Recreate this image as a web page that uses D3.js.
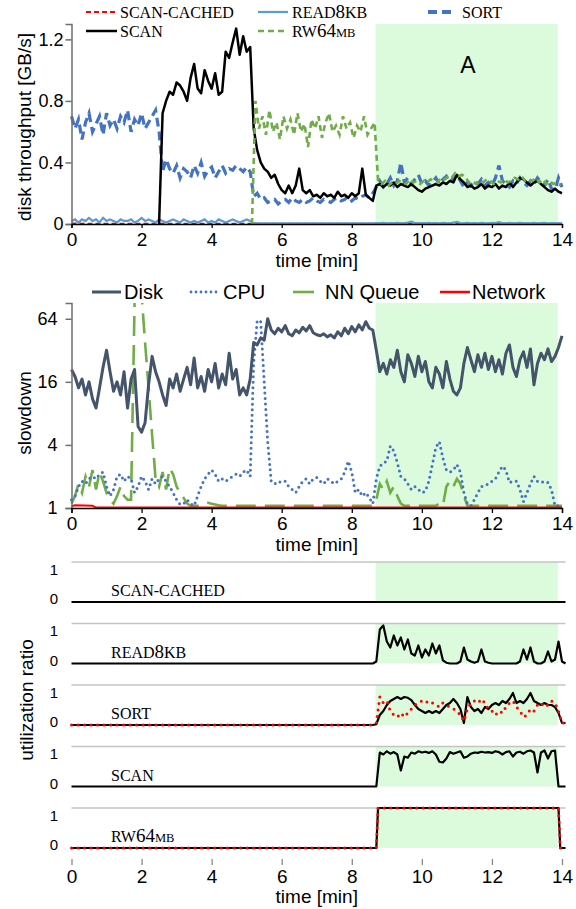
<!DOCTYPE html>
<html>
<head>
<meta charset="utf-8">
<script src="https://cdn.jsdelivr.net/npm/d3@7"></script>
<style>
  body { margin: 0; background: #fff; }
  text { font-family: "Liberation Sans", Arial, sans-serif; fill: #000; }
  text.serif { font-family: "Liberation Serif", "Times New Roman", serif; }
</style>
</head>
<body>
<div id="chart-area"></div>
<script>
// ---------- data ----------
const step = 0.1;                       // minutes between samples
const timeTicks = [0, 2, 4, 6, 8, 10, 12, 14];
const shadeStart = 8.68, shadeEnd = 13.88;

// disk throughput [GB/s]
const throughputTicks = [0, 0.4, 0.8, 1.2];
const sortStart = 0;
const sortValues = [
  0.70,0.62,0.68,0.55,0.66,0.72,0.60,0.65,0.70,0.58,
  0.72,0.64,0.68,0.62,0.70,0.66,0.74,0.60,0.68,0.64,
  0.72,0.62,0.66,0.70,0.74,0.60,0.34,0.42,0.36,0.33,
  0.38,0.30,0.36,0.34,0.30,0.38,0.33,0.40,0.31,0.35,
  0.37,0.30,0.34,0.38,0.33,0.36,0.35,0.38,0.36,0.34,
  0.37,0.34,0.18,0.20,0.16,0.17,0.14,0.15,0.16,0.13,
  0.15,0.16,0.14,0.17,0.15,0.14,0.16,0.14,0.15,0.17,
  0.15,0.14,0.16,0.15,0.14,0.16,0.17,0.15,0.16,0.18,
  0.15,0.17,0.16,0.18,0.19,0.17,0.20,0.24,0.28,0.24,
  0.26,0.30,0.25,0.28,0.40,0.27,0.30,0.26,0.29,0.32,
  0.26,0.28,0.25,0.27,0.30,0.26,0.29,0.31,0.27,0.30,
  0.32,0.28,0.24,0.27,0.25,0.28,0.26,0.29,0.25,0.27,
  0.25,0.30,0.38,0.28,0.26,0.24,0.28,0.26,0.30,0.27,
  0.25,0.28,0.26,0.30,0.27,0.25,0.29,0.23,0.22,0.30,
  0.24
];
const read8kbStart = 0;
const read8kbValues = [
  0.02,0.03,0.01,0.03,0.02,0.04,0.02,0.03,0.01,0.04,
  0.02,0.03,0.02,0.01,0.03,0.02,0.02,0.03,0.01,0.02,
  0.04,0.02,0.03,0.02,0.01,0.03,0.02,0.01,0.02,0.03,
  0.02,0.01,0.03,0.02,0.01,0.02,0.01,0.02,0.03,0.01,
  0.02,0.01,0.03,0.02,0.01,0.02,0.03,0.02,0.01,0.02,
  0.03,0.02,0.006,0.005,0.005,0.005,0.005,0.005,0.005,0.005,
  0.005,0.005,0.005,0.005,0.005,0.005,0.005,0.005,0.005,0.005,
  0.005,0.005,0.005,0.005,0.005,0.005,0.005,0.005,0.005,0.005,
  0.005,0.005,0.005,0.005,0.005,0.005,0.005,0.006,0.005,0.008,
  0.005,0.006,0.005,0.008,0.005,0.006,0.010,0.016,0.006,0.005,
  0.006,0.005,0.008,0.005,0.006,0.005,0.008,0.006,0.005,0.010,
  0.014,0.006,0.005,0.008,0.005,0.006,0.005,0.008,0.006,0.005,
  0.008,0.006,0.012,0.006,0.005,0.008,0.005,0.006,0.008,0.005,
  0.006,0.005,0.008,0.005,0.006,0.008,0.005,0.006,0.005,0.006,
  0.005
];
const scanCachedStart = 0;
const scanCachedValues = [
  0.003,0.004,0.003,0.002,0.003,0.002,0.002,0.002,0.002,0.002,
  0.002,0.002,0.002,0.002,0.002,0.002,0.002,0.002,0.002,0.002,
  0.002,0.002,0.002,0.002,0.002,0.002,0.002,0.002,0.002,0.002,
  0.002,0.002,0.002,0.002,0.002,0.002,0.002,0.002,0.002,0.002,
  0.002,0.002,0.002,0.002,0.002,0.002,0.002,0.002,0.002,0.002,
  0.002,0.002,0.002,0.002,0.002,0.002,0.002,0.002,0.002,0.002,
  0.002,0.002,0.002,0.002,0.002,0.002,0.002,0.002,0.002,0.002,
  0.002,0.002,0.002,0.002,0.002,0.002,0.002,0.002,0.002,0.002,
  0.002,0.002,0.002,0.002,0.002,0.002,0.002,0.002,0.003,0.002,
  0.002,0.003,0.002,0.002,0.003,0.002,0.004,0.002,0.002,0.003,
  0.002,0.003,0.002,0.002,0.003,0.002,0.002,0.003,0.002,0.003,
  0.008,0.003,0.002,0.003,0.002,0.002,0.003,0.002,0.002,0.003,
  0.002,0.003,0.002,0.002,0.003,0.002,0.002,0.003,0.002,0.003,
  0.002,0.002,0.003,0.002,0.006,0.003,0.002,0.002,0.003,0.002,
  0.002
];
const scanStart = 2.5;
const scanValues = [
  0.00,0.72,0.80,0.86,0.84,
  0.92,0.90,0.86,0.80,0.95,1.04,0.88,0.85,1.00,0.93,
  0.88,0.98,0.84,0.86,1.12,1.08,1.18,1.27,1.10,1.22,
  1.12,1.15,0.62,0.48,0.40,0.36,0.34,0.30,0.32,0.26,
  0.22,0.20,0.25,0.20,0.25,0.36,0.22,0.20,0.22,0.18,
  0.19,0.17,0.20,0.18,0.19,0.17,0.21,0.18,0.19,0.17,
  0.20,0.18,0.20,0.36,0.19,0.17,0.15,0.25,0.26,0.24,
  0.26,0.25,0.27,0.24,0.26,0.25,0.24,0.26,0.24,0.22,
  0.21,0.23,0.24,0.25,0.26,0.25,0.27,0.26,0.28,0.27,
  0.32,0.29,0.27,0.24,0.25,0.23,0.24,0.26,0.23,0.25,
  0.24,0.26,0.23,0.25,0.24,0.27,0.24,0.27,0.30,0.29,
  0.27,0.25,0.27,0.28,0.26,0.24,0.22,0.21,0.23,0.21,
  0.20
];
const rw64Start = 5.15;
const rw64Values = [
  0.00,0.80,0.62,0.70,0.58,0.74,0.60,0.66,0.55,0.70,
  0.62,0.68,0.58,0.72,0.60,0.65,0.50,0.68,0.62,0.70,
  0.56,0.66,0.72,0.60,0.64,0.58,0.70,0.62,0.66,0.56,
  0.64,0.60,0.70,0.58,0.62,0.66,0.28,0.26,0.28,0.25,
  0.27,0.26,0.28,0.27,0.26,0.29,0.27,0.28,0.26,0.28,
  0.27,0.29,0.28,0.27,0.30,0.29,0.31,0.30,0.33,0.31,
  0.32,0.30,0.27,0.28,0.26,0.28,0.27,0.29,0.28,0.26,
  0.28,0.27,0.29,0.27,0.28,0.30,0.29,0.31,0.28,0.29,
  0.28,0.30,0.27,0.29,0.26,0.28,0.26,0.27,0.25
];

// slowdown (log scale)
const slowdownTicks = [1, 4, 16, 64];
const diskValues = [
  21,18,14,17,12,16,11,9,14,22,
  32,20,13,16,12,20,9,17,21,6,
  5.3,6.5,15,28,20,16,12,9.5,17,14,
  19,13,17,22,15,27,14,18,13,21,
  16,24,14,19,15,30,17,21,12,14,
  12,17,38,36,42,40,64,50,46,52,
  48,55,46,44,50,47,53,49,55,47,
  45,44,46,43,45,42,48,44,52,46,
  54,48,56,50,60,52,50,32,20,24,
  19,26,22,32,20,16,29,24,18,28,
  20,25,16,14,22,19,14,25,17,13,
  12,14,24,34,26,20,29,22,30,21,
  28,20,26,19,30,36,22,18,26,31,
  22,33,15,24,30,26,33,25,28,34,
  44
];
const cpuValues = [
  1.2,1.3,1.6,1.8,1.7,1.9,2.0,1.9,2.1,2.2,
  1.6,1.3,1.5,2.0,2.1,1.8,2.0,1.9,1.4,1.6,
  2.0,1.8,1.5,1.9,1.7,1.9,2.0,1.8,1.6,1.4,
  1.2,1.08,1.1,1.2,1.1,1.05,1.3,1.6,1.9,2.1,
  2.3,2.1,1.8,1.9,1.8,1.9,2.0,2.1,2.0,2.2,
  2.3,2.0,24,62,60,16,4.3,1.8,1.7,1.8,
  1.75,1.8,1.6,1.5,1.4,1.6,1.8,1.9,1.7,1.9,
  1.95,1.8,1.7,1.9,1.8,1.7,1.8,1.9,2.2,2.8,
  2.2,1.4,1.5,1.3,1.4,1.25,1.1,1.9,2.5,2.7,
  2.8,3.9,3.5,2.7,2.0,1.9,1.7,1.5,1.6,1.5,
  1.4,1.45,1.8,2.6,3.8,4.3,3.0,2.3,2.2,2.3,
  2.6,2.2,1.4,1.1,1.05,1.2,1.4,1.6,1.65,1.7,
  1.8,1.9,2.2,2.5,2.3,1.75,1.8,1.8,1.5,1.15,
  1.4,1.7,2.0,1.8,1.75,1.8,1.75,1.5,1.05,1.05,
  1.05
];
const nnQueueValues = [
  1.1,1.3,1.7,1.4,2.0,1.6,2.3,1.5,2.2,1.8,
  1.4,1.2,1.1,1.3,1.6,1.3,1.2,1.2,90,200,
  110,38,14,5,1.9,1.6,2.2,1.5,2.4,2.1,
  1.6,1.4,1.25,1.1,1.05,1.05,1.05,1.05,1.1,1.12,
  1.1,1.08,1.06,1.05,1.05,1.05,1.05,1.05,1.05,1.05,
  1.05,1.05,1.05,1.05,1.05,1.05,1.05,1.05,1.05,1.05,
  1.05,1.05,1.05,1.05,1.05,1.05,1.05,1.05,1.05,1.05,
  1.05,1.05,1.05,1.05,1.05,1.05,1.05,1.05,1.05,1.05,
  1.05,1.05,1.05,1.05,1.05,1.05,1.05,1.2,1.7,1.5,
  1.8,1.4,1.6,1.3,1.1,1.05,1.05,1.05,1.05,1.05,
  1.05,1.05,1.05,1.05,1.05,1.1,1.05,1.6,1.8,1.6,
  1.9,1.7,1.3,1.05,1.05,1.05,1.05,1.05,1.05,1.05,
  1.05,1.05,1.05,1.05,1.05,1.05,1.05,1.05,1.05,1.05,
  1.05,1.05,1.05,1.05,1.05,1.05,1.05,1.05,1.05,1.05,
  1.05
];
const networkTimes = [0, 0.1, 0.6, 0.7, 14];
const networkValues = [1.04, 1.06, 1.05, 1.01, 1.01];

// utilization ratio panels
const panelNames = ["SCAN-CACHED", "READ8KB", "SORT", "SCAN", "RW64MB"];
const utilTicks = [0, 1];
const utilStart = 8.6;
const utilRead8kb = [
  0,0.05,0.85,0.95,0.55,0.4,0.7,0.45,0.65,0.35,
  0.6,0.25,0.2,0.45,0.15,0.35,0.2,0.5,0.25,0.45,
  0.08,0.02,0,0,0,0.05,0.4,0.1,0.05,0.02,
  0.05,0.35,0.05,0.02,0,0,0,0,0,0,
  0,0,0.05,0.35,0.1,0.4,0.05,0,0,0.05,
  0.3,0.05,0.1,0.55,0.05,0
];
const utilSortSolid = [
  0,0.02,0.25,0.35,0.5,0.6,0.65,0.7,0.65,0.7,
  0.68,0.62,0.5,0.4,0.35,0.3,0.35,0.3,0.35,0.3,
  0.4,0.5,0.55,0.65,0.55,0.4,0.05,0.7,0.45,0.35,
  0.4,0.3,0.45,0.4,0.5,0.55,0.5,0.6,0.55,0.65,
  0.8,0.55,0.6,0.55,0.65,0.8,0.6,0.55,0.5,0.55,
  0.5,0.5,0.45,0.3,0.05,0.05
];
const utilSortDotted = [
  0,0.05,0.7,0.55,0.6,0.35,0.25,0.2,0.3,0.2,
  0.3,0.4,0.5,0.55,0.6,0.55,0.6,0.55,0.5,0.45,
  0.55,0.5,0.45,0.4,0.35,0.25,0.1,0.4,0.55,0.6,
  0.55,0.65,0.55,0.4,0.35,0.25,0.35,0.3,0.45,0.55,
  0.6,0.45,0.35,0.2,0.25,0.4,0.35,0.5,0.55,0.45,
  0.5,0.6,0.55,0.35,0.05,0.05
];
const utilScan = [
  0,0,0.85,0.8,0.88,0.82,0.86,0.8,0.4,0.75,
  0.72,0.85,0.82,0.88,0.85,0.87,0.84,0.88,0.8,0.62,
  0.6,0.7,0.86,0.82,0.85,0.88,0.72,0.75,0.82,0.85,
  0.84,0.87,0.85,0.86,0.84,0.88,0.86,0.8,0.86,0.88,
  0.75,0.85,0.87,0.82,0.88,0.9,0.85,0.35,0.85,0.9,
  0.7,0.88,0.9,0,0,0
];
const utilRw64Times = [0, 8.7, 8.75, 13.9, 13.95, 14.1];
const utilRw64Values = [0, 0, 1, 1, 0, 0];
const utilIdleTimes = [0, 14.1];
const utilIdleValues = [0, 0];

// ---------- helpers ----------
function toPoints(t0, vals) { return vals.map((v, i) => [t0 + i * step, v]); }
function zipPoints(ts, vs) { return ts.map((t, i) => [t, vs[i]]); }
function utilPoints(vals) { return [[0, 0]].concat(toPoints(utilStart, vals)); }

const width = 576, height = 909;
const shadeColor = "#dcfadc";
const sansFont = "Liberation Sans, Arial, sans-serif";

const svg = d3.select("#chart-area").append("svg")
  .attr("width", width).attr("height", height);

const x = d3.scaleLinear().domain([0, 14]).range([71.5, 562]);

function richName(textSel, name) {
  // digits set larger, "MB" in small caps
  const parts = name.match(/[0-9]+|MB|[^0-9]+?(?=MB|[0-9]|$)/g);
  parts.forEach(p => {
    let size = 16;
    if (/^[0-9]+$/.test(p)) size = 19;
    else if (p === "MB") size = 12.5;
    textSel.append("tspan").attr("font-size", size).text(p);
  });
}

// ---------- top chart: disk throughput ----------
const yTop = d3.scaleLinear().domain([0, 1.3]).range([224, 24]);
const lineTop = d3.line().x(d => x(d[0])).y(d => yTop(d[1]));

svg.append("rect")
  .attr("x", x(shadeStart)).attr("y", yTop(1.3))
  .attr("width", x(shadeEnd) - x(shadeStart)).attr("height", yTop(0) - yTop(1.3))
  .attr("fill", shadeColor);

svg.append("text").attr("x", 468).attr("y", 73).attr("text-anchor", "middle")
  .attr("font-size", 23).text("A");

svg.append("path").datum(toPoints(sortStart, sortValues))
  .attr("d", lineTop).attr("fill", "none").attr("stroke", "#4472c4")
  .attr("stroke-width", 3.2).attr("stroke-dasharray", "9,5");
svg.append("path").datum(toPoints(scanCachedStart, scanCachedValues))
  .attr("d", lineTop).attr("fill", "none").attr("stroke", "#ff0000")
  .attr("stroke-width", 2).attr("stroke-dasharray", "5,3");
svg.append("path").datum(toPoints(read8kbStart, read8kbValues))
  .attr("d", lineTop).attr("fill", "none").attr("stroke", "#5b9bd5")
  .attr("stroke-width", 2.2);
svg.append("path").datum(toPoints(scanStart, scanValues))
  .attr("d", lineTop).attr("fill", "none").attr("stroke", "#000")
  .attr("stroke-width", 2.5).attr("stroke-linejoin", "round");
svg.append("path").datum(toPoints(rw64Start, rw64Values))
  .attr("d", lineTop).attr("fill", "none").attr("stroke", "#70ad47")
  .attr("stroke-width", 2.6).attr("stroke-dasharray", "6,4");

let yAxisTop = svg.append("g").attr("transform", "translate(71.5,0)")
  .call(d3.axisLeft(yTop).tickValues(throughputTicks).tickSizeOuter(0).tickSize(6).tickPadding(2)
    .tickFormat(d => d === 0 ? "0" : d3.format(".1f")(d)));
yAxisTop.selectAll("path, line").attr("stroke", "#6e6e6e").attr("stroke-width", 1.5);
yAxisTop.selectAll("text").attr("font-size", 18).attr("font-family", sansFont);

let xAxisTop = svg.append("g").attr("transform", "translate(0,224)")
  .call(d3.axisBottom(x).tickValues(timeTicks).tickSizeOuter(0).tickSize(4).tickPadding(5));
xAxisTop.selectAll("path, line").attr("stroke", "#000").attr("stroke-width", 1.3);
xAxisTop.selectAll("text").attr("font-size", 19).attr("font-family", sansFont);

svg.append("text").attr("x", x(7)).attr("y", 267).attr("text-anchor", "middle")
  .attr("font-size", 19).text("time [min]");
svg.append("text").attr("transform", "translate(31," + ((224 + 30) / 2) + ") rotate(-90)")
  .attr("text-anchor", "middle").attr("font-size", 19).text("disk throughput [GB/s]");

// top legend
const topLegend = [
  { name: "SCAN-CACHED", color: "#ff0000", dash: "5,3", w: 2, x0: 86, x1: 117, tx: 120, y: 12 },
  { name: "READ8KB", color: "#5b9bd5", dash: null, w: 2.2, x0: 258, x1: 288, tx: 292, y: 12 },
  { name: "SORT", color: "#4472c4", dash: "9,5", w: 4, x0: 428, x1: 456, tx: 462, y: 12 },
  { name: "SCAN", color: "#000", dash: null, w: 2.5, x0: 86, x1: 117, tx: 120, y: 31 },
  { name: "RW64MB", color: "#70ad47", dash: "6,4", w: 2.6, x0: 258, x1: 288, tx: 292, y: 31 }
];
topLegend.forEach(l => {
  svg.append("line").attr("x1", l.x0).attr("x2", l.x1).attr("y1", l.y).attr("y2", l.y)
    .attr("stroke", l.color).attr("stroke-width", l.w).attr("stroke-dasharray", l.dash);
  const t = svg.append("text").attr("class", "serif").attr("x", l.tx).attr("y", l.y + 5.5);
  richName(t, l.name);
});

// ---------- middle chart: slowdown ----------
const yMid = d3.scaleLog().base(2).domain([1, 90.5]).range([508, 303]);
const lineMid = d3.line().x(d => x(d[0])).y(d => yMid(d[1]));

svg.append("defs").append("clipPath").attr("id", "clipMid")
  .append("rect").attr("x", 60).attr("y", 303).attr("width", 520).attr("height", 215);

svg.append("rect")
  .attr("x", x(shadeStart)).attr("y", 303)
  .attr("width", x(shadeEnd) - x(shadeStart)).attr("height", 508 - 303)
  .attr("fill", shadeColor);

const mid = svg.append("g").attr("clip-path", "url(#clipMid)");
mid.append("path").datum(toPoints(0, nnQueueValues))
  .attr("d", lineMid).attr("fill", "none").attr("stroke", "#70ad47")
  .attr("stroke-width", 2.6).attr("stroke-dasharray", "20,9");
mid.append("path").datum(toPoints(0, cpuValues))
  .attr("d", lineMid).attr("fill", "none").attr("stroke", "#4472c4")
  .attr("stroke-width", 3).attr("stroke-linecap", "round").attr("stroke-dasharray", "0,5.5");
mid.append("path").datum(toPoints(0, diskValues))
  .attr("d", lineMid).attr("fill", "none").attr("stroke", "#44546a")
  .attr("stroke-width", 3).attr("stroke-linejoin", "round");
mid.append("path").datum(zipPoints(networkTimes, networkValues))
  .attr("d", lineMid).attr("fill", "none").attr("stroke", "#ff0000")
  .attr("stroke-width", 2);

let yAxisMid = svg.append("g").attr("transform", "translate(71.5,0)")
  .call(d3.axisLeft(yMid).tickValues(slowdownTicks).tickSizeOuter(0).tickSize(6).tickPadding(8)
    .tickFormat(d3.format("d")));
yAxisMid.selectAll("path, line").attr("stroke", "#6e6e6e").attr("stroke-width", 1.5);
yAxisMid.selectAll("text").attr("font-size", 18).attr("font-family", sansFont);

let xAxisMid = svg.append("g").attr("transform", "translate(0,508)")
  .call(d3.axisBottom(x).tickValues(timeTicks).tickSizeOuter(0).tickSize(5).tickPadding(4));
xAxisMid.selectAll("path, line").attr("stroke", "#000").attr("stroke-width", 1.3);
xAxisMid.selectAll("text").attr("font-size", 19).attr("font-family", sansFont);

svg.append("text").attr("x", x(7)).attr("y", 551).attr("text-anchor", "middle")
  .attr("font-size", 19).text("time [min]");
svg.append("text").attr("transform", "translate(31,413) rotate(-90)")
  .attr("text-anchor", "middle").attr("font-size", 19).text("slowdown");

const midLegend = [
  { name: "Disk", color: "#44546a", dash: null, w: 3, cap: "butt", x0: 92, x1: 121, tx: 124 },
  { name: "CPU", color: "#4472c4", dash: "0,5", w: 2.8, cap: "round", x0: 191, x1: 221, tx: 223 },
  { name: "NN Queue", color: "#70ad47", dash: null, w: 2.6, cap: "butt", x0: 293, x1: 314, tx: 325 },
  { name: "Network", color: "#ff0000", dash: null, w: 2.5, cap: "butt", x0: 440, x1: 470, tx: 472 }
];
midLegend.forEach(l => {
  svg.append("line").attr("x1", l.x0).attr("x2", l.x1).attr("y1", 292).attr("y2", 292)
    .attr("stroke", l.color).attr("stroke-width", l.w).attr("stroke-linecap", l.cap)
    .attr("stroke-dasharray", l.dash);
  svg.append("text").attr("x", l.tx).attr("y", 299).attr("font-size", 20).text(l.name);
});

// ---------- bottom panels: utilization ratio ----------
const panelSeries = [
  [{ pts: zipPoints(utilIdleTimes, utilIdleValues), dotted: false }],
  [{ pts: utilPoints(utilRead8kb), dotted: false }],
  [{ pts: utilPoints(utilSortSolid), dotted: false }, { pts: utilPoints(utilSortDotted), dotted: true }],
  [{ pts: utilPoints(utilScan), dotted: false }],
  [{ pts: zipPoints(utilRw64Times, utilRw64Values), dotted: false },
   { pts: zipPoints(utilRw64Times, utilRw64Values), dotted: true }]
];

panelNames.forEach((name, k) => {
  const zeroY = 602 + 61.5 * k, oneY = zeroY - 40;
  const yP = d3.scaleLinear().domain([0, 1]).range([zeroY, oneY]);
  const lineP = d3.line().x(d => x(d[0])).y(d => yP(d[1]));

  svg.append("rect")
    .attr("x", x(shadeStart)).attr("y", yP(1))
    .attr("width", x(shadeEnd) - x(shadeStart)).attr("height", yP(0) - yP(1))
    .attr("fill", shadeColor);
  svg.append("line").attr("x1", x(0)).attr("x2", x(14.1)).attr("y1", yP(1)).attr("y2", yP(1))
    .attr("stroke", "#c4c4c4").attr("stroke-width", 1.3);

  const ax = svg.append("g").attr("transform", "translate(58,0)")
    .call(d3.axisLeft(yP).tickValues(utilTicks).tickSize(0).tickPadding(0)
      .tickFormat(d3.format("d")));
  ax.select(".domain").remove();
  ax.selectAll("text").attr("font-size", 15).attr("font-family", sansFont)
    .attr("dy", d => d === 1 ? "0.8em" : "0.1em");

  const t = svg.append("text").attr("class", "serif").attr("x", 111).attr("y", zeroY - 6);
  richName(t, name);

  panelSeries[k].forEach(s => {
    const p = svg.append("path").datum(s.pts).attr("d", lineP).attr("fill", "none");
    if (s.dotted) {
      p.attr("stroke", "#ff0000").attr("stroke-width", 3)
        .attr("stroke-linecap", "round").attr("stroke-dasharray", "0,6.5");
    } else {
      p.attr("stroke", "#000").attr("stroke-width", 2.2).attr("stroke-linejoin", "round");
    }
  });
});

let xAxisBot = svg.append("g").attr("transform", "translate(0,859)")
  .call(d3.axisBottom(x).tickValues(timeTicks).tickSize(6).tickPadding(5));
xAxisBot.select(".domain").remove();
xAxisBot.selectAll("line").attr("stroke", "#888").attr("stroke-width", 1.3);
xAxisBot.selectAll("text").attr("font-size", 19).attr("font-family", sansFont);

svg.append("text").attr("x", x(7)).attr("y", 903).attr("text-anchor", "middle")
  .attr("font-size", 19).text("time [min]");
svg.append("text").attr("transform", "translate(33,700) rotate(-90)")
  .attr("text-anchor", "middle").attr("font-size", 19).text("utilization ratio");
</script>
</body>
</html>
